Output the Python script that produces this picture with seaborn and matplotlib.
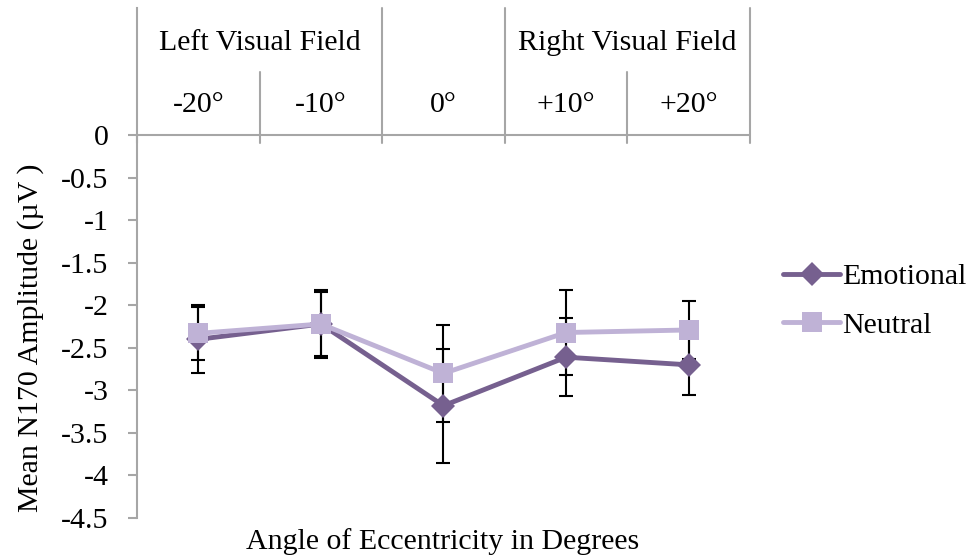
import matplotlib
matplotlib.use("Agg")
import matplotlib.pyplot as plt
import seaborn as sns
import pandas as pd
from matplotlib.lines import Line2D

categories = ["-20°", "-10°", "0°", "+10°", "+20°"]
emotional = [-2.40, -2.22, -3.18, -2.61, -2.70]
neutral = [-2.33, -2.22, -2.80, -2.32, -2.29]
emotional_err = [0.40, 0.38, 0.67, 0.46, 0.35]
neutral_err = [0.31, 0.40, 0.57, 0.50, 0.34]
groups = ["Left Visual Field", "Right Visual Field"]
yticks = [0, -0.5, -1, -1.5, -2, -2.5, -3, -3.5, -4, -4.5]

sns.set_theme(style="white")
plt.rcParams['font.family'] = ['Liberation Serif', 'DejaVu Serif']
plt.rcParams['text.color'] = 'black'
plt.rcParams['axes.labelcolor'] = 'black'
plt.rcParams['ytick.labelcolor'] = 'black'
FS = 21.5

pos = list(range(len(categories)))
df = pd.DataFrame({
    "pos": pos * 2,
    "amp": emotional + neutral,
    "cond": ["Emotional"] * len(pos) + ["Neutral"] * len(pos),
})

dark = "#76608f"
light = "#bfb2d6"
grid_c = "#a6a6a6"

fig = plt.figure(figsize=(9.74, 5.59), dpi=100)
ax = fig.add_axes([137/974, (559-518)/559, (750-137)/974, (518-8)/559])

ytop = (135 - 8) / 85.0
ax.set_ylim(-4.5, ytop)
ax.set_xlim(-0.5, 4.5)

ax.errorbar(pos, emotional, yerr=emotional_err, fmt="none", ecolor="black",
            elinewidth=1.5, capsize=5, capthick=1.5, zorder=2)
ax.errorbar(pos, neutral, yerr=neutral_err, fmt="none", ecolor="black",
            elinewidth=1.5, capsize=5, capthick=1.5, zorder=2)

sns.lineplot(data=df, x="pos", y="amp", hue="cond", style="cond",
             markers={"Emotional": "D", "Neutral": "s"}, dashes=False,
             palette={"Emotional": dark, "Neutral": light},
             linewidth=3.5, markersize=12, markeredgewidth=0, ax=ax,
             legend=False)
for l in ax.lines:
    if l.get_marker() in ("D", "s"):
        l.set_zorder(3)
    if l.get_marker() == "s":
        l.set_markersize(14)

for s in ["top", "right", "bottom"]:
    ax.spines[s].set_visible(False)
ax.spines["left"].set_color(grid_c)
ax.spines["left"].set_linewidth(1.5)

ax.set_yticks(yticks)
ax.set_yticklabels([f"{v:g}" for v in yticks], fontsize=FS, color="black")
ax.tick_params(axis="y", length=6.5, width=1.5, color=grid_c, pad=14, left=True)
ax.set_xticks([])

ax.axhline(0, color=grid_c, lw=1.5, zorder=1)
tick_bottom = -8 / 85.0
short_top = (135 - 72) / 85.0
for b in [0.5, 1.5, 2.5, 3.5, 4.5]:
    top = short_top if b in (0.5, 3.5) else ytop
    ax.plot([b, b], [tick_bottom, top], color=grid_c, lw=1.5, zorder=1,
            clip_on=False)
ax.plot([-0.5, -0.5], [tick_bottom, 0], color=grid_c, lw=1.5, zorder=1, clip_on=False)

for p, c in zip(pos, categories):
    ax.text(p, (135 - 105) / 85.0, c, ha="center", va="center", fontsize=FS, color="black")
ax.text(0.5, (135 - 43) / 85.0, groups[0], ha="center", va="center", fontsize=FS, color="black")
ax.text(3.5, (135 - 43) / 85.0, groups[1], ha="center", va="center", fontsize=FS, color="black")

ax.set_xlabel("Angle of Eccentricity in Degrees", fontsize=FS, va="top", color="black")
ax.xaxis.set_label_coords((443 - 137) / 613, (518 - 528) / 510)
ax.set_ylabel("Mean N170 Amplitude (µV )", fontsize=FS, color="black")
ax.yaxis.set_label_coords((44 - 137) / 613, (518 - 338) / 510)

handles = [
    Line2D([], [], color=dark, lw=3.5, marker="D", markersize=12, markeredgewidth=0),
    Line2D([], [], color=light, lw=3.5, marker="s", markersize=14, markeredgewidth=0),
]
leg = ax.legend(handles, ["Emotional", "Neutral"], loc="center left",
                bbox_to_anchor=(1.035, 0.425), frameon=False, fontsize=FS,
                handlelength=1.9, handletextpad=0.05, labelspacing=0.72,
                borderaxespad=0)
for t in leg.get_texts():
    t.set_color("black")

fig.savefig("out.png", dpi=100)
